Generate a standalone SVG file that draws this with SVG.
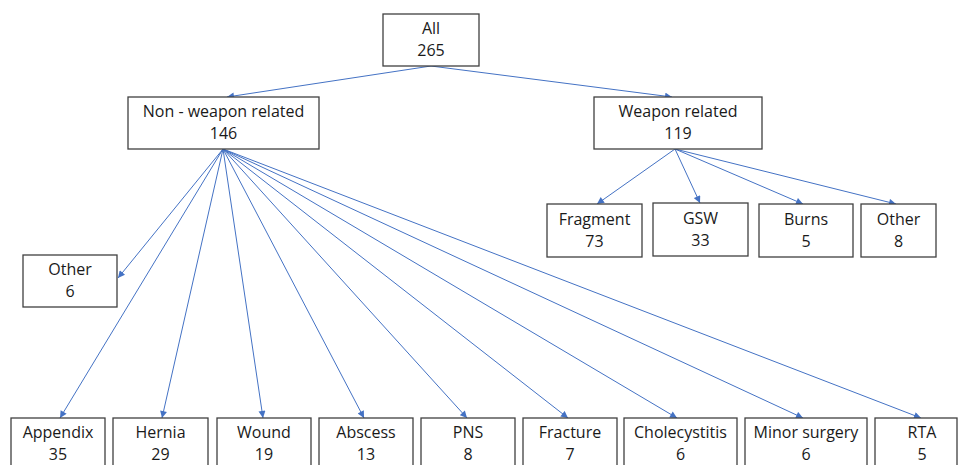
<svg xmlns="http://www.w3.org/2000/svg" width="961" height="465" viewBox="0 0 961 465">
<style>
.box{fill:#ffffff;stroke:#404040;stroke-width:1.3}
.t{font-family:"Open Sans","Liberation Sans",sans-serif;font-size:16px;fill:#1a1a1a;text-anchor:middle}
.c{stroke:#4472C4;stroke-width:1;fill:none;marker-end:url(#ah)}
</style>
<defs>
<marker id="ah" viewBox="0 0 10 10" refX="10" refY="5" markerWidth="8" markerHeight="7" markerUnits="userSpaceOnUse" orient="auto">
<path d="M0,0 L10,5 L0,10 z" fill="#4472C4"/>
</marker>
</defs>
<rect width="961" height="465" fill="#ffffff"/>
<g id="connectors">
<line class="c" x1="431" y1="66" x2="227" y2="97"/>
<line class="c" x1="431" y1="66" x2="672" y2="97"/>
<line class="c" x1="675" y1="149" x2="597" y2="204"/>
<line class="c" x1="675" y1="149" x2="700" y2="203"/>
<line class="c" x1="675" y1="149" x2="803" y2="204"/>
<line class="c" x1="675" y1="149" x2="896" y2="204"/>
<line class="c" x1="223" y1="149" x2="118" y2="278"/>
<line class="c" x1="223" y1="149" x2="60" y2="418"/>
<line class="c" x1="223" y1="149" x2="162" y2="418"/>
<line class="c" x1="223" y1="149" x2="263" y2="418"/>
<line class="c" x1="223" y1="149" x2="364" y2="418"/>
<line class="c" x1="223" y1="149" x2="467" y2="418"/>
<line class="c" x1="223" y1="149" x2="568" y2="418"/>
<line class="c" x1="223" y1="149" x2="677" y2="418"/>
<line class="c" x1="223" y1="149" x2="803" y2="418"/>
<line class="c" x1="223" y1="149" x2="921" y2="418"/>
</g>
<g id="all"><rect class="box" x="383" y="14" width="96" height="52"/><text class="t" x="431" y="34">All</text><text class="t" x="431" y="56">265</text></g>
<g id="nonweapon"><rect class="box" x="128" y="97" width="191" height="52"/><text class="t" x="223.5" y="117">Non - weapon related</text><text class="t" x="223.5" y="139">146</text></g>
<g id="weapon"><rect class="box" x="594" y="97" width="168" height="52"/><text class="t" x="678" y="117">Weapon related</text><text class="t" x="678" y="139">119</text></g>
<g id="fragment"><rect class="box" x="547" y="204" width="95" height="53"/><text class="t" x="594.5" y="225">Fragment</text><text class="t" x="594.5" y="247">73</text></g>
<g id="gsw"><rect class="box" x="653" y="203" width="95" height="53"/><text class="t" x="700.5" y="224">GSW</text><text class="t" x="700.5" y="246">33</text></g>
<g id="burns"><rect class="box" x="759" y="204" width="94" height="53"/><text class="t" x="806" y="225">Burns</text><text class="t" x="806" y="247">5</text></g>
<g id="other-w"><rect class="box" x="861" y="204" width="75" height="53"/><text class="t" x="898.5" y="225">Other</text><text class="t" x="898.5" y="247">8</text></g>
<g id="other-nw"><rect class="box" x="23" y="255" width="94" height="52"/><text class="t" x="70" y="275">Other</text><text class="t" x="70" y="297">6</text></g>
<g id="appendix"><rect class="box" x="11" y="418" width="94" height="55"/><text class="t" x="58" y="438">Appendix</text><text class="t" x="58" y="460">35</text></g>
<g id="hernia"><rect class="box" x="113" y="418" width="95" height="55"/><text class="t" x="160.5" y="438">Hernia</text><text class="t" x="160.5" y="460">29</text></g>
<g id="wound"><rect class="box" x="217" y="418" width="94" height="55"/><text class="t" x="264" y="438">Wound</text><text class="t" x="264" y="460">19</text></g>
<g id="abscess"><rect class="box" x="319" y="418" width="94" height="55"/><text class="t" x="366" y="438">Abscess</text><text class="t" x="366" y="460">13</text></g>
<g id="pns"><rect class="box" x="421" y="418" width="94" height="55"/><text class="t" x="468" y="438">PNS</text><text class="t" x="468" y="460">8</text></g>
<g id="fracture"><rect class="box" x="523" y="418" width="94" height="55"/><text class="t" x="570" y="438">Fracture</text><text class="t" x="570" y="460">7</text></g>
<g id="cholecystitis"><rect class="box" x="624" y="418" width="113" height="55"/><text class="t" x="680.5" y="438">Cholecystitis</text><text class="t" x="680.5" y="460">6</text></g>
<g id="minorsurgery"><rect class="box" x="745" y="418" width="122" height="55"/><text class="t" x="806" y="438">Minor surgery</text><text class="t" x="806" y="460">6</text></g>
<g id="rta"><rect class="box" x="875" y="418" width="82" height="55"/><text class="t" x="922" y="438">RTA</text><text class="t" x="922" y="460">5</text></g>
</svg>
